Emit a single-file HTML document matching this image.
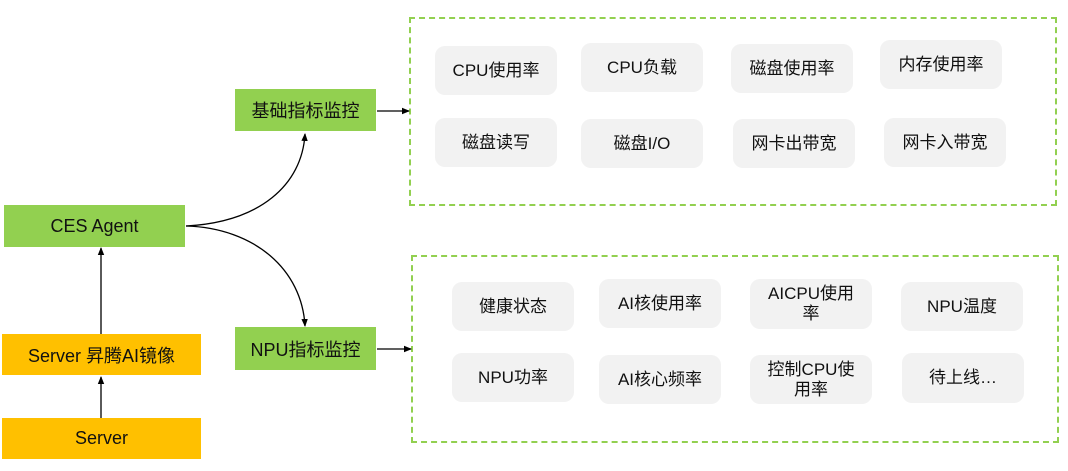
<!DOCTYPE html>
<html><head><meta charset="utf-8"><style>
body{margin:0;width:1068px;height:471px;background:#fff;position:relative;overflow:hidden;font-family:"Liberation Sans","Noto Sans CJK SC",sans-serif;color:#111}
.b{position:absolute;display:flex;align-items:center;justify-content:center;text-align:center;font-size:18px}
.g{background:#92d050}
.y{background:#ffc000}
.c{background:#f2f2f2;border-radius:10px;font-size:17px;line-height:20px}
.d{position:absolute;border:2px dashed #92d050;box-sizing:border-box}
svg{position:absolute;left:0;top:0}
</style></head><body>
<div class="d" style="left:409px;top:17px;width:648px;height:189px"></div>
<div class="d" style="left:411px;top:255px;width:648px;height:188px"></div>

<div class="b g" style="left:235px;top:89px;width:141px;height:42px">基础指标监控</div>
<div class="b g" style="left:4px;top:205px;width:181px;height:42px">CES Agent</div>
<div class="b g" style="left:235px;top:327px;width:141px;height:43px">NPU指标监控</div>
<div class="b y" style="left:2px;top:334px;width:199px;height:41px">Server 昇腾AI镜像</div>
<div class="b y" style="left:2px;top:418px;width:199px;height:41px">Server</div>

<div class="b c" style="left:435px;top:46px;width:122px;height:49px">CPU使用率</div>
<div class="b c" style="left:581px;top:43px;width:122px;height:49px">CPU负载</div>
<div class="b c" style="left:731px;top:44px;width:122px;height:49px">磁盘使用率</div>
<div class="b c" style="left:880px;top:40px;width:122px;height:49px">内存使用率</div>
<div class="b c" style="left:435px;top:118px;width:122px;height:49px">磁盘读写</div>
<div class="b c" style="left:581px;top:119px;width:122px;height:49px">磁盘I/O</div>
<div class="b c" style="left:733px;top:119px;width:122px;height:49px">网卡出带宽</div>
<div class="b c" style="left:884px;top:118px;width:122px;height:49px">网卡入带宽</div>

<div class="b c" style="left:452px;top:282px;width:122px;height:49px">健康状态</div>
<div class="b c" style="left:599px;top:279px;width:122px;height:49px">AI核使用率</div>
<div class="b c" style="left:750px;top:279px;width:122px;height:50px">AICPU使用<br>率</div>
<div class="b c" style="left:901px;top:282px;width:122px;height:49px">NPU温度</div>
<div class="b c" style="left:452px;top:353px;width:122px;height:49px">NPU功率</div>
<div class="b c" style="left:599px;top:355px;width:122px;height:49px">AI核心频率</div>
<div class="b c" style="left:750px;top:355px;width:122px;height:49px">控制CPU使<br>用率</div>
<div class="b c" style="left:902px;top:353px;width:122px;height:50px">待上线…</div>

<svg width="1068" height="471">
<defs><marker id="a" markerWidth="8" markerHeight="8" refX="7" refY="4" orient="auto" markerUnits="userSpaceOnUse"><path d="M0,0.8 L8,4 L0,7.2z" fill="#000"/></marker></defs>
<g stroke="#000" stroke-width="1.3" fill="none">
<path d="M101,334 V248" marker-end="url(#a)"/>
<path d="M101,418 V377" marker-end="url(#a)"/>
<path d="M186,226 C260,222 302,185 305,134" marker-end="url(#a)"/>
<path d="M186,226 C255,228 302,270 305,326" marker-end="url(#a)"/>
<path d="M377,111 H409" marker-end="url(#a)"/>
<path d="M377,349 H411" marker-end="url(#a)"/>
</g>
</svg>
</body></html>
